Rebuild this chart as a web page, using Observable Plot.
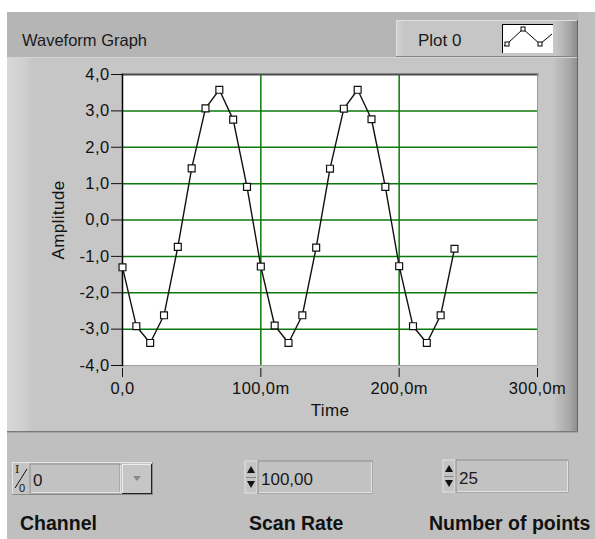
<!DOCTYPE html>
<html>
<head>
<meta charset="utf-8">
<script src="https://cdn.jsdelivr.net/npm/d3@7"></script>
<script src="https://cdn.jsdelivr.net/npm/@observablehq/plot@0.6"></script>
<style>
  body { margin: 0; background: #fff; }
  #root { position: relative; width: 595px; height: 539px; overflow: hidden; background: #fff;
          font-family: "Liberation Sans", Arial, sans-serif; }
  #chrome { position: absolute; left: 0; top: 0; }
  #chart { position: absolute; left: 7px; top: 57px; }
  #chart text { letter-spacing: 0.4px; }
</style>
</head>
<body>
<div id="root">
<svg id="chrome" width="595" height="539" xmlns="http://www.w3.org/2000/svg" font-family="'Liberation Sans', Arial, sans-serif">
  <defs>
    <linearGradient id="bodyGrad" x1="0" x2="1" y1="0" y2="0">
      <stop offset="0" stop-color="#d8d8d8"/>
      <stop offset="0.035" stop-color="#cdcdcd"/>
      <stop offset="0.045" stop-color="#c6c6c6"/>
      <stop offset="0.955" stop-color="#c6c6c6"/>
      <stop offset="0.985" stop-color="#a8a8a8"/>
      <stop offset="1" stop-color="#8c8c8c"/>
    </linearGradient>
    <linearGradient id="legGrad" x1="0" x2="1" y1="0" y2="0">
      <stop offset="0" stop-color="#d2d2d2"/>
      <stop offset="0.05" stop-color="#c6c6c6"/>
      <stop offset="0.88" stop-color="#c6c6c6"/>
      <stop offset="0.95" stop-color="#aaaaaa"/>
      <stop offset="1" stop-color="#8c8c8c"/>
    </linearGradient>
  </defs>
  <rect x="0" y="0" width="595" height="539" fill="#fff"/>
  <rect x="7" y="12" width="588" height="527" fill="#bfbfbf"/>
  <rect x="7" y="12" width="571" height="45" fill="#b5b5b5"/>
  <rect x="7" y="57" width="571" height="375" fill="url(#bodyGrad)"/>
  <line x1="7" y1="57.5" x2="577" y2="57.5" stroke="#d4d4d4"/>
  <line x1="577.5" y1="20" x2="577.5" y2="432" stroke="#666"/>
  <line x1="7" y1="431.5" x2="578" y2="431.5" stroke="#7a7a7a"/>
  <line x1="7" y1="432.5" x2="578" y2="432.5" stroke="#a5a5a5"/>
  <text x="22" y="46" font-size="16.5" fill="#1a1a1a">Waveform Graph</text>
  <!-- legend -->
  <rect x="396" y="20" width="181" height="37" fill="url(#legGrad)"/>
  <line x1="396" y1="20.5" x2="577" y2="20.5" stroke="#dedede"/>
  <line x1="396.5" y1="20" x2="396.5" y2="56" stroke="#dedede"/>
  <line x1="396" y1="56.5" x2="577" y2="56.5" stroke="#858585"/>
  <text x="418" y="46" font-size="17" fill="#1a1a1a">Plot 0</text>
  <rect x="502" y="24" width="51" height="29" fill="#fff"/>
  <line x1="502.5" y1="24" x2="502.5" y2="53" stroke="#000"/>
  <line x1="502" y1="24.5" x2="553" y2="24.5" stroke="#000"/>
  <polyline points="504,46 507,44 523,29 540,44 552,34" fill="none" stroke="#000" stroke-width="1"/>
  <rect x="505" y="42" width="4" height="4" fill="#fff" stroke="#000"/>
  <rect x="521" y="27" width="4" height="4" fill="#fff" stroke="#000"/>
  <rect x="538" y="42" width="4" height="4" fill="#fff" stroke="#000"/>
  <!-- Channel control -->
  <rect x="12" y="462" width="141" height="33" fill="#c4c4c4"/>
  <line x1="12" y1="462.5" x2="153" y2="462.5" stroke="#e6e6e6"/>
  <line x1="12.5" y1="462" x2="12.5" y2="495" stroke="#e6e6e6"/>
  <line x1="12" y1="494.5" x2="153" y2="494.5" stroke="#8a8a8a"/>
  <line x1="152.5" y1="462" x2="152.5" y2="495" stroke="#8a8a8a"/>
  <text x="15" y="473" font-size="11" font-family="'DejaVu Serif', serif" fill="#111">I</text>
  <line x1="15" y1="488" x2="27" y2="469" stroke="#111"/>
  <text x="19" y="492" font-size="11" fill="#111">0</text>
  <rect x="30" y="464" width="90" height="29" fill="#c2c2c2" stroke="#8e8e8e"/>
  <line x1="31" y1="492.5" x2="120" y2="492.5" stroke="#e2e2e2"/>
  <line x1="120.5" y1="465" x2="120.5" y2="493" stroke="#e2e2e2"/>
  <text x="33" y="486" font-size="17" fill="#1a1a1a">0</text>
  <rect x="122" y="464" width="30" height="30" fill="#c6c6c6"/>
  <line x1="122" y1="464.5" x2="151" y2="464.5" stroke="#ececec"/>
  <line x1="122.5" y1="464" x2="122.5" y2="493" stroke="#ececec"/>
  <line x1="122" y1="493.5" x2="152" y2="493.5" stroke="#222"/>
  <line x1="151.5" y1="464" x2="151.5" y2="494" stroke="#222"/>
  <polygon points="133,476 141,476 137,481" fill="#888"/>
  <!-- Scan Rate -->
  <rect x="245" y="461" width="12" height="32" fill="#c4c4c4" stroke="#e4e4e4"/>
  <polygon points="247,473 255,473 251,466" fill="#111"/>
  <polygon points="247,481 255,481 251,488" fill="#111"/>
  <line x1="246" y1="477.5" x2="256" y2="477.5" stroke="#888"/>
  <rect x="258" y="461" width="114" height="32" fill="#c2c2c2" stroke="#8e8e8e"/>
  <line x1="259" y1="492.5" x2="372" y2="492.5" stroke="#e2e2e2"/>
  <line x1="371.5" y1="462" x2="371.5" y2="493" stroke="#e2e2e2"/>
  <text x="261" y="485" font-size="17" fill="#1a1a1a">100,00</text>
  <!-- Number of points -->
  <rect x="443" y="460" width="12" height="32" fill="#c4c4c4" stroke="#e4e4e4"/>
  <polygon points="445,472 453,472 449,465" fill="#111"/>
  <polygon points="445,480 453,480 449,487" fill="#111"/>
  <line x1="444" y1="476.5" x2="454" y2="476.5" stroke="#888"/>
  <rect x="456" y="460" width="112" height="32" fill="#c2c2c2" stroke="#8e8e8e"/>
  <line x1="457" y1="491.5" x2="568" y2="491.5" stroke="#e2e2e2"/>
  <line x1="567.5" y1="461" x2="567.5" y2="492" stroke="#e2e2e2"/>
  <text x="459" y="484" font-size="17" fill="#1a1a1a">25</text>
  <!-- control labels -->
  <text x="20" y="530" font-size="19.5" font-weight="bold" fill="#111">Channel</text>
  <text x="249" y="530" font-size="19.5" font-weight="bold" fill="#111">Scan Rate</text>
  <text x="429" y="530" font-size="19.5" font-weight="bold" fill="#111">Number of points</text>
</svg>
<div id="chart"></div>
</div>
<script>
// ---- data ----
const times = [0, 10, 20, 30, 40, 50, 60, 70, 80, 90,
               100, 110, 120, 130, 140, 150, 160, 170, 180, 190,
               200, 210, 220, 230, 240];               // ms
const amplitude = [-1.30, -2.92, -3.38, -2.62, -0.74, 1.42, 3.07, 3.58, 2.76, 0.91,
                   -1.28, -2.90, -3.38, -2.62, -0.76, 1.41, 3.06, 3.58, 2.77, 0.91,
                   -1.27, -2.92, -3.38, -2.62, -0.79];
const yTicks = [-4, -3, -2, -1, 0, 1, 2, 3, 4];
const xTicks = [0, 100, 200, 300];
const yGrid = [-3, -2, -1, 0, 1, 2, 3];
const xGrid = [100, 200];

const data = times.map((t, i) => ({t, a: amplitude[i]}));
const fmtY = d => d.toFixed(1).replace(".", ",");
const fmtX = d => d === 0 ? "0,0" : d.toFixed(1).replace(".", ",") + "m";

const chart = Plot.plot({
  width: 571,
  height: 375,
  marginLeft: 115,
  marginRight: 41,
  marginTop: 17,
  marginBottom: 67,
  x: {domain: [0, 300]},
  y: {domain: [-4, 4]},
  style: {background: "transparent", fontFamily: "'Liberation Sans', Arial, sans-serif", fontSize: "16px", color: "#111", overflow: "visible"},
  marks: [
    Plot.frame({fill: "white", stroke: null}),
    Plot.ruleY(yGrid, {stroke: "#0a780a", strokeWidth: 1.5}),
    Plot.ruleX(xGrid, {stroke: "#0a780a", strokeWidth: 1.5}),
    Plot.frame({anchor: "top", stroke: "#4a4a4a", strokeWidth: 2}),
    Plot.frame({anchor: "right", stroke: "#9a9a9a"}),
    Plot.frame({anchor: "bottom", stroke: "#a0a0a0"}),
    Plot.frame({anchor: "left", stroke: "#000", strokeWidth: 1.5}),
    Plot.line(data, {x: "t", y: "a", stroke: "#111", strokeWidth: 1.4}),
    Plot.dot(data, {x: "t", y: "a", symbol: "square", r: 3.9, fill: "white", stroke: "#111", strokeWidth: 1.2}),
    Plot.axisY({ticks: yTicks, tickFormat: fmtY, tickSize: 11, tickPadding: 2, fontSize: 16.5, label: null}),
    Plot.axisX({ticks: xTicks, tickFormat: fmtX, tickSize: 9, tickPadding: 5, dy: 3, fontSize: 16.5, label: null}),
    Plot.text(["Amplitude"], {frameAnchor: "left", dx: -64, rotate: -90, textAnchor: "middle", fontSize: 17}),
    Plot.text(["Time"], {frameAnchor: "bottom", dy: 50, fontSize: 17})
  ]
});
document.getElementById("chart").appendChild(chart);
</script>
</body>
</html>
